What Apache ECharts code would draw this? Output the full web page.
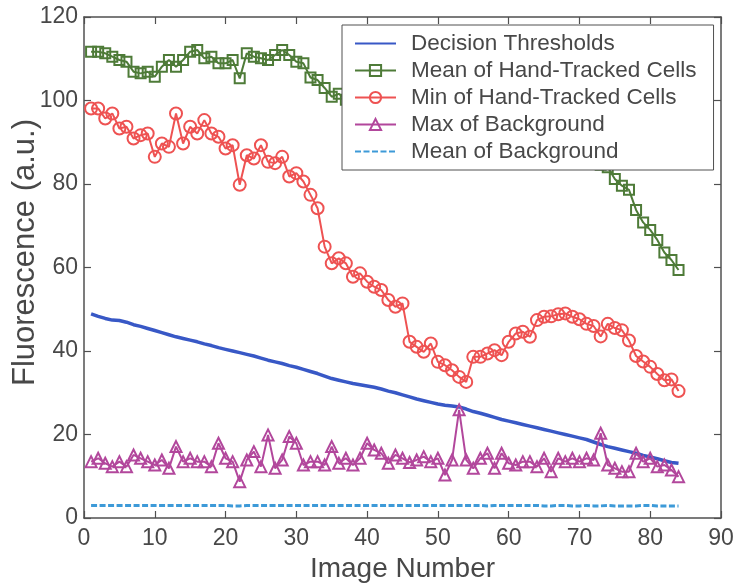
<!DOCTYPE html>
<html>
<head>
<meta charset="utf-8">
<title>Fluorescence vs Image Number</title>
<script src="https://cdn.jsdelivr.net/npm/echarts@6.0.0/dist/echarts.min.js"></script>
<style>
  html, body { margin: 0; padding: 0; background: #fff; }
  #chart { width: 737px; height: 588px; }
</style>
</head>
<body>
<div id="chart"></div>
<script>
// Image index along the x axis
const imageNumber = [
  1, 2, 3, 4, 5, 6, 7, 8, 9, 10, 11, 12, 13, 14, 15, 16, 17, 18, 19, 20,
  21, 22, 23, 24, 25, 26, 27, 28, 29, 30, 31, 32, 33, 34, 35, 36, 37, 38, 39, 40,
  41, 42, 43, 44, 45, 46, 47, 48, 49, 50, 51, 52, 53, 54, 55, 56, 57, 58, 59, 60,
  61, 62, 63, 64, 65, 66, 67, 68, 69, 70, 71, 72, 73, 74, 75, 76, 77, 78, 79, 80,
  81, 82, 83, 84
];

const decisionThresholds = [
  48.9, 48.3, 47.8, 47.4, 47.3, 46.9, 46.3, 45.9, 45.4, 44.9,
  44.4, 43.9, 43.4, 43.0, 42.6, 42.2, 41.7, 41.3, 40.8, 40.4,
  40.0, 39.6, 39.2, 38.8, 38.3, 37.8, 37.4, 37.0, 36.5, 36.1,
  35.6, 35.1, 34.6, 34.0, 33.4, 33.0, 32.6, 32.2, 31.9, 31.6,
  31.3, 30.9, 30.4, 30.0, 29.5, 29.0, 28.5, 28.1, 27.7, 27.3,
  27.0, 26.8, 26.6, 26.1, 25.5, 25.1, 24.6, 24.1, 23.6, 23.2,
  22.8, 22.4, 22.0, 21.6, 21.2, 20.8, 20.4, 20.0, 19.6, 19.2,
  18.8, 18.2, 17.6, 17.1, 16.7, 16.3, 15.9, 15.5, 15.0, 14.6,
  14.2, 13.7, 13.3, 13.1
];

const meanHandTracked = [
  111.7, 111.7, 111.3, 110.5, 109.7, 109.3, 106.9, 106.5, 106.9, 105.7,
  108.1, 109.7, 108.1, 109.7, 111.7, 112.1, 110.1, 110.5, 108.9, 108.9,
  109.7, 105.3, 111.3, 110.5, 110.1, 109.7, 110.9, 112.1, 110.9, 109.3,
  108.9, 105.5, 104.9, 103.0, 100.9, 101.6, 100.2, 99.6, 99.0, 99.3,
  98.4, 98.0, 97.1, 96.8, 96.5, 94.2, 93.6, 93.0, 93.4, 92.5,
  92.1, 91.4, 90.6, 90.0, 91.8, 92.0, 92.3, 92.6, 92.1, 93.0,
  93.6, 93.8, 93.4, 94.5, 94.8, 95.0, 95.2, 94.4, 92.9, 91.0,
  87.5, 85.2, 84.6, 84.0, 81.2, 79.6, 78.6, 73.8, 70.8, 69.0,
  66.6, 63.6, 61.8, 59.4
];

const minHandTracked = [
  98.1, 98.1, 95.7, 96.9, 93.3, 93.7, 90.9, 91.7, 92.1, 86.5,
  89.7, 88.9, 96.9, 89.7, 93.7, 92.1, 95.3, 92.1, 91.3, 88.5,
  89.3, 79.8, 86.9, 86.1, 89.3, 85.3, 85.0, 86.5, 81.8, 82.6,
  80.6, 77.4, 74.2, 65.0, 61.0, 62.2, 61.0, 57.8, 58.6, 56.6,
  55.4, 54.6, 52.2, 50.6, 51.4, 42.2, 41.0, 39.8, 41.8, 37.4,
  36.6, 35.4, 33.8, 32.6, 38.6, 38.6, 39.4, 40.2, 39.0, 42.2,
  44.2, 44.6, 43.4, 47.4, 48.2, 48.3, 48.8, 49.0, 48.2, 47.6,
  46.5, 46.0, 43.5, 46.5, 45.5, 45.0, 42.5, 38.8, 37.5, 36.2,
  34.5, 33.0, 33.2, 30.4
];

const maxBackground = [
  13.5, 14.3, 13.1, 12.3, 13.5, 12.3, 15.1, 14.3, 13.5, 12.7,
  13.9, 11.9, 17.1, 13.5, 14.3, 13.5, 13.5, 12.3, 17.9, 14.3,
  13.5, 8.7, 13.9, 15.9, 12.3, 19.9, 11.9, 13.9, 19.5, 17.9,
  12.7, 13.5, 13.5, 12.7, 17.1, 13.1, 14.3, 12.7, 14.3, 17.9,
  16.3, 15.5, 13.1, 15.1, 14.3, 13.3, 13.9, 14.7, 13.5, 14.3,
  10.3, 13.9, 25.9, 13.9, 11.9, 14.3, 15.5, 11.9, 15.5, 13.1,
  12.7, 13.5, 13.5, 12.3, 14.3, 11.1, 14.3, 13.5, 14.3, 13.5,
  14.3, 13.9, 20.3, 12.7, 11.9, 11.1, 11.1, 15.5, 13.5, 14.3,
  12.3, 12.7, 11.5, 9.9
];

const meanBackground = [
  3.0, 3.0, 3.0, 3.0, 3.0, 3.0, 3.0, 3.0, 3.0, 3.0,
  3.0, 3.0, 3.0, 3.0, 3.0, 3.0, 3.0, 3.0, 3.0, 3.0,
  2.9, 2.9, 3.0, 3.0, 3.0, 3.0, 3.0, 3.0, 3.0, 3.0,
  3.0, 3.0, 3.0, 3.0, 3.0, 3.0, 3.0, 3.0, 3.0, 3.0,
  3.0, 3.0, 3.0, 3.0, 3.0, 3.0, 3.0, 3.0, 3.0, 3.0,
  3.0, 3.0, 3.0, 3.0, 3.0, 3.0, 2.9, 3.0, 3.0, 3.0,
  3.0, 3.0, 3.0, 3.0, 2.9, 2.9, 3.0, 3.0, 2.9, 2.9,
  3.0, 2.9, 2.9, 3.0, 2.9, 2.9, 2.9, 2.9, 3.0, 3.0,
  2.9, 2.9, 2.9, 2.9
];

const seriesNames = [
  'Decision Thresholds',
  'Mean of Hand-Tracked Cells',
  'Min of Hand-Tracked Cells',
  'Max of Background',
  'Mean of Background'
];

const xTicks = { min: 0, max: 90, interval: 10 };
const yTicks = { min: 0, max: 120, interval: 20 };

const FONT = "'Liberation Sans', Arial, Helvetica, sans-serif";
const TEXT = '#484848';
const AXIS = '#505050';

function pairs(values) {
  return values.map((v, i) => [imageNumber[i], v]);
}

function markerSeries(name, values, color, symbol, size) {
  return {
    name: name,
    type: 'line',
    data: pairs(values),
    symbol: symbol,
    symbolSize: size,
    showAllSymbol: true,
    lineStyle: { color: color, width: 2 },
    itemStyle: { color: 'rgba(255,255,255,0)', borderColor: color, borderWidth: 2 },
    emphasis: { disabled: true }
  };
}

function plainSeries(name, values, color, width, type) {
  return {
    name: name,
    type: 'line',
    data: pairs(values),
    symbol: 'none',
    lineStyle: { color: color, width: width, type: type },
    itemStyle: { color: color },
    emphasis: { disabled: true }
  };
}

const frameAxis = (extra) => Object.assign({
  type: 'value',
  nameMoveOverlap: false,
  axisLine: { show: true, onZero: false, lineStyle: { color: AXIS, width: 1.5 } },
  axisTick: { show: true, inside: true, length: 7, lineStyle: { color: AXIS, width: 1.2 } },
  splitLine: { show: false }
}, extra);

// Plain-line entries get no marker in the legend
const legendItems = seriesNames.map((name, i) =>
  (i === 0 || i === 4) ? { name: name, itemStyle: { opacity: 0 } } : { name: name }
);

const chart = echarts.init(document.getElementById('chart'), null, { renderer: 'canvas' });

chart.setOption({
  backgroundColor: '#fff',
  animation: false,
  grid: { left: 84, right: 16, top: 17, bottom: 70, containLabel: false, outerBoundsMode: 'none' },
  textStyle: { fontFamily: FONT },
  legend: {
    orient: 'vertical',
    left: 342,
    top: 25,
    data: legendItems,
    backgroundColor: '#fff',
    borderColor: AXIS,
    borderWidth: 1,
    borderRadius: 0,
    padding: [7, 17, 7, 12],
    itemWidth: 41,
    itemHeight: 14,
    itemGap: 4,
    selectedMode: false,
    textStyle: { fontFamily: FONT, fontSize: 22.5, color: TEXT, lineHeight: 22, padding: [0, 0, 0, 10] }
  },
  xAxis: [
    frameAxis({
      position: 'bottom',
      min: xTicks.min, max: xTicks.max, interval: xTicks.interval,
      name: 'Image Number',
      nameLocation: 'middle',
      nameGap: 37,
      nameTextStyle: { fontFamily: FONT, fontSize: 28, color: TEXT },
      axisLabel: { show: true, margin: 9, fontFamily: FONT, fontSize: 23, color: TEXT }
    }),
    frameAxis({
      position: 'top',
      min: xTicks.min, max: xTicks.max, interval: xTicks.interval,
      axisLabel: { show: false }
    })
  ],
  yAxis: [
    frameAxis({
      position: 'left',
      min: yTicks.min, max: yTicks.max, interval: yTicks.interval,
      name: 'Fluorescence (a.u.)',
      nameLocation: 'middle',
      nameGap: 43,
      nameTextStyle: { fontFamily: FONT, fontSize: 31, color: TEXT, padding: [0, 0, 0, 30] },
      axisLabel: { show: true, margin: 6, fontFamily: FONT, fontSize: 23, color: TEXT }
    }),
    frameAxis({
      position: 'right',
      min: yTicks.min, max: yTicks.max, interval: yTicks.interval,
      axisLabel: { show: false }
    })
  ],
  series: [
    plainSeries(seriesNames[0], decisionThresholds, '#3858c6', 3.5, 'solid'),
    markerSeries(seriesNames[1], meanHandTracked, '#4e7b38', 'rect', 10),
    markerSeries(seriesNames[2], minHandTracked, '#ee5252', 'circle', 12),
    markerSeries(seriesNames[3], maxBackground, '#b2479c', 'triangle', 11),
    plainSeries(seriesNames[4], meanBackground, '#3d9ad8', 3, [6, 2.5])
  ]
});
</script>
</body>
</html>
